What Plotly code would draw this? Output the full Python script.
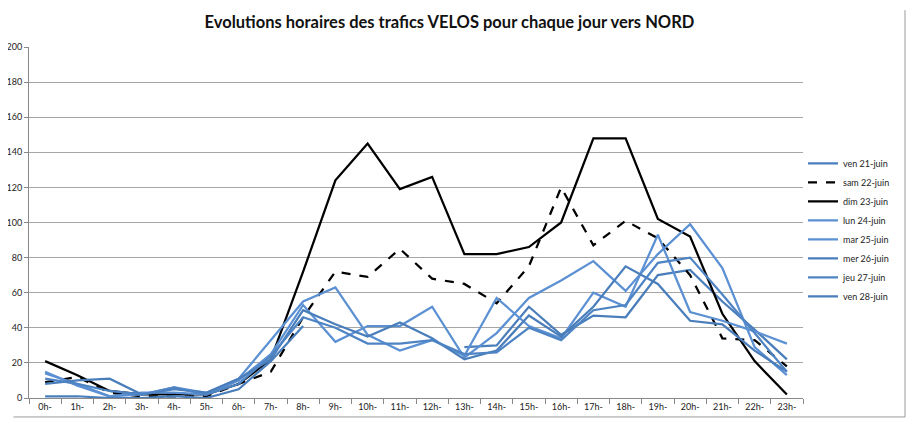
import plotly.graph_objects as go

hours = [f"{h}h-" for h in range(24)]

ven21 = [None]*13 + [29, 30, 52, 36, 47, 46, 70, 73, 55, 39, 22]
sam22 = [9, 12, 3, 1, 1, 1, 8, 15, 46, 72, 69, 85, 68, 65, 54, 75, 120, 87, 101, 91, 70, 34, 33, 18]
dim23 = [21, 13, 4, 2, 2, 2, 8, 22, 72, 124, 145, 119, 126, 82, 82, 86, 100, 148, 148, 102, 92, 48, 21, 2]
lun24 = [15, 7, 1, 2, 6, 3, 11, 33, 55, 63, 36, 27, 33, 24, 57, 41, 34, 60, 52, 93, 49, 44, 38, 31]
mar25 = [14, 8, 1, 3, 3, 2, 10, 25, 53, 32, 41, 41, 52, 23, 37, 57, 67, 78, 61, 82, 99, 74, 29, 13]
mer26 = [8, 10, 11, 2, 5, 3, 11, 22, 50, 42, 35, 43, 34, 22, 27, 47, 35, 52, 75, 65, 44, 42, 27, 15]
jeu27 = [11, 8, 4, 2, 6, 2, 8, 24, 46, 40, 31, 31, 33, 25, 26, 40, 33, 50, 53, 77, 80, 59, 37, 15]
ven28 = [1, 1, 0, 0, 1, 0, 5, 21, 41] + [None]*15

series = [
    ("ven 21-juin", ven21, "#4A7EBB", "solid"),
    ("sam 22-juin", sam22, "#000000", "dash"),
    ("dim 23-juin", dim23, "#000000", "solid"),
    ("lun 24-juin", lun24, "#5B90D3", "solid"),
    ("mar 25-juin", mar25, "#5B90D3", "solid"),
    ("mer 26-juin", mer26, "#4A7EBB", "solid"),
    ("jeu 27-juin", jeu27, "#4F84C4", "solid"),
    ("ven 28-juin", ven28, "#4A7EBB", "solid"),
]

fig = go.Figure()
for name, vals, color, dash in series:
    fig.add_trace(go.Scatter(
        x=hours, y=vals, name=name, mode="lines",
        line=dict(color=color, width=2.25, dash=dash),
        connectgaps=False,
    ))

fig.update_layout(
    width=914, height=426,
    margin=dict(l=21, r=119, t=39, b=36, autoexpand=False),
    paper_bgcolor="white", plot_bgcolor="white",
    font=dict(family="Lato, Liberation Sans, sans-serif", size=9, color="#222222"),
    title=dict(text="<b>Evolutions horaires des trafics VELOS pour chaque jour vers NORD</b>",
               x=0.483, xanchor="center", xref="container", y=0.967, yref="container",
               yanchor="middle",
               font=dict(size=16.5, color="#111111", family="Lato, Liberation Sans, sans-serif")),
    legend=dict(x=1.0, xanchor="left", y=0.479, yanchor="middle",
                font=dict(size=9), itemwidth=30, tracegroupgap=0,
                bgcolor="rgba(0,0,0,0)"),
    showlegend=True,
)
fig.update_xaxes(type="category", showgrid=False, showline=True, linecolor="#898989", linewidth=1,
                 ticks="outside", ticklen=5, tickcolor="#898989", tickson="boundaries",
                 tickfont=dict(size=9), range=[-0.5, 23.5], automargin=False)
fig.update_yaxes(range=[0, 200], dtick=20, showgrid=True, gridcolor="#a6a6a6", gridwidth=1,
                 showline=True, linecolor="#898989", linewidth=1, ticks="outside", ticklen=4,
                 tickcolor="#898989", tickfont=dict(size=9), zeroline=False, automargin=False)

fig.add_shape(type="line", xref="paper", yref="paper",
              x0=1.1318, x1=1.1318, y0=-0.054, y1=1.105,
              line=dict(color="#9a9a9a", width=1), layer="above")
fig.add_shape(type="line", xref="paper", yref="paper",
              x0=-0.02, x1=1.1318, y0=-0.054, y1=-0.054,
              line=dict(color="#9a9a9a", width=1), layer="above")

fig.write_html("out.html")
